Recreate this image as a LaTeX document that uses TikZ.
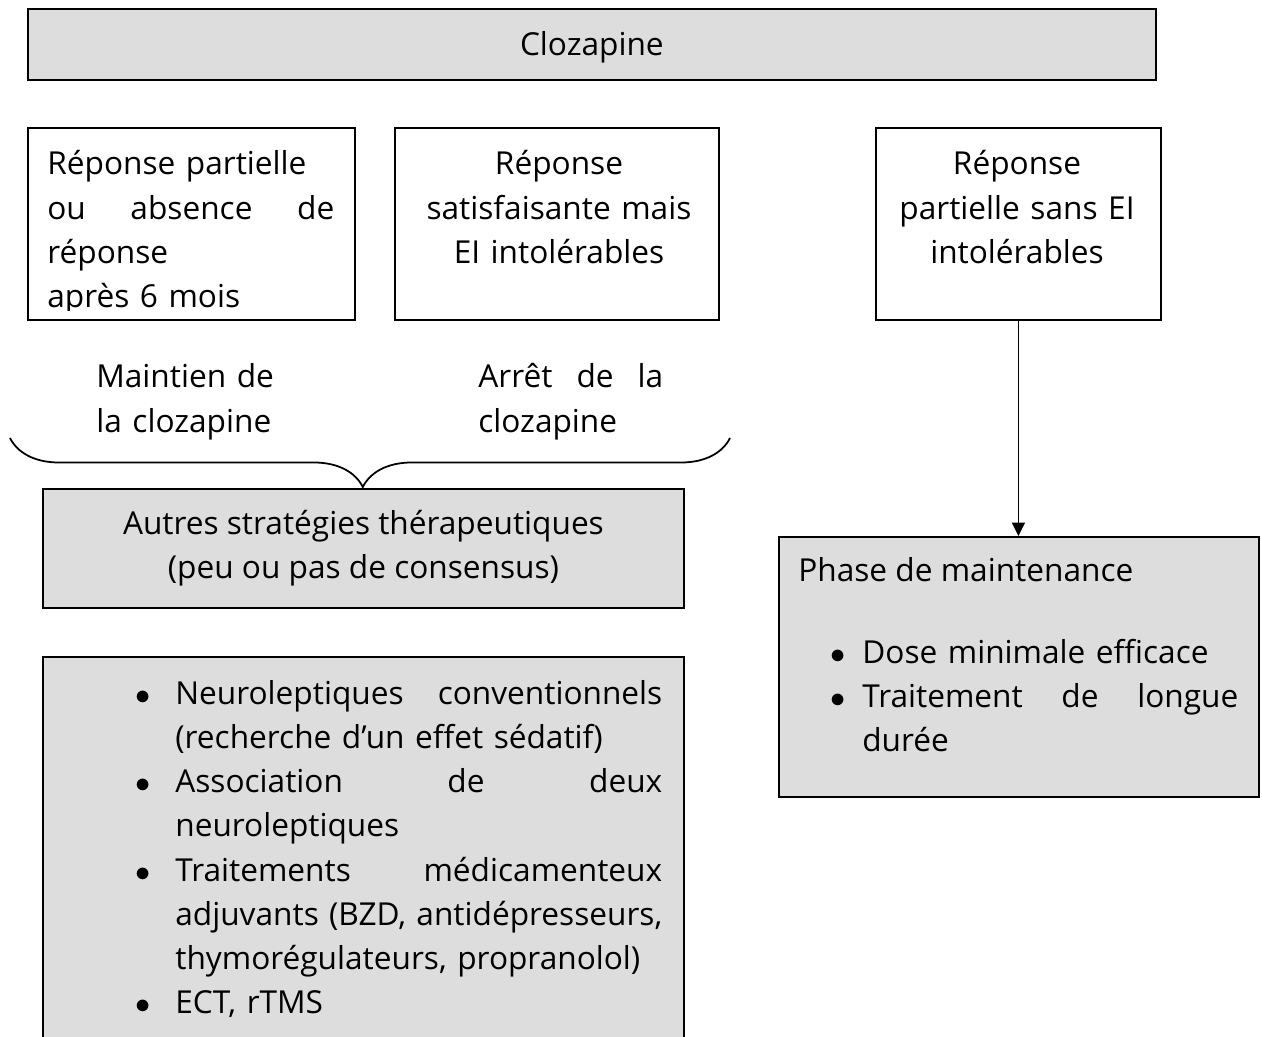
\documentclass[tikz,border=0pt]{standalone}
\usepackage{fontspec}
\setmainfont{Open Sans}
\usetikzlibrary{arrows.meta,positioning,decorations.pathreplacing}
\definecolor{boxgray}{HTML}{DDDDDD}
\newcommand{\bodyfont}{\fontsize{18}{25.2}\selectfont}
\newcommand{\puce}[1]{\leavevmode\llap{$\bullet$\hspace{#1}}}
\tikzset{
      frame/.style    = {draw, line width=1.1pt, inner sep=0pt, anchor=north west},
      shaded/.style   = {frame, fill=boxgray},
      txt/.style      = {inner sep=0pt, font=\bodyfont},
      flowedge/.style = {black, line width=1pt, -{Triangle[length=0.27cm, width=0.26cm]}},
      accolade/.style = {black, line width=1pt, decorate,
                         decoration={brace, mirror, amplitude=0.98cm, aspect=0.49}},
    }

\begin{document}
\begin{tikzpicture}[x=0.02cm, y=-0.02cm]
    \useasboundingbox (0,0) rectangle (1262,1037);

    \node [shaded, txt, text height=17pt, text depth=4.5pt,
           minimum width=22.56cm, minimum height=1.42cm] (clozapine) at (27,8) {Clozapine};

    \node [frame, minimum width=6.54cm, minimum height=3.84cm] (frameA) at (27,127) {};
    \node [frame, minimum width=6.48cm, minimum height=3.84cm] (frameB) at (394,127) {};
    \node [frame, minimum width=5.70cm, minimum height=3.84cm] (frameC) at (875,127) {};

    \begin{scope}
      \clip (frameA.north west) rectangle ([yshift=0.2cm]frameA.south east);
      \node [txt, anchor=base west, text width=5.74cm, align=left] (textA) at (47,175)
        {Réponse partielle\\ ou\hfill absence\hfill de\\ réponse\\ après 6 mois};
    \end{scope}
    \node [txt, anchor=base, text width=6cm, align=center] (textB) at (559,175)
      {Réponse\\ satisfaisante mais\\ EI intolérables};
    \node [txt, anchor=base, text width=5.4cm, align=center] (textC) at (1017,175)
      {Réponse\\ partielle sans EI\\ intolérables};

    \node [txt, anchor=base west, text width=3.6cm, align=left] (maintien) at (96,388)
      {Maintien de\\ la clozapine};
    \node [txt, anchor=base west, text width=3.7cm, align=left] (arret) at (478,388)
      {Arrêt\hfill de\hfill la\\ clozapine};

    \coordinate (braceL) at (10,438);
    \coordinate (braceR) at (730,438);
    \draw [accolade] (braceL) -- (braceR);

    \node [shaded, txt, align=center, minimum width=12.82cm, minimum height=2.38cm] (autres) at (42,488)
      {Autres stratégies thérapeutiques\\ (peu ou pas de consensus)};

    \node [shaded, minimum width=12.82cm, minimum height=8cm] (frameE) at (42,656) {};
    \node [txt, anchor=base west, text width=9.74cm, align=left] (textE) at (175,704)
      {\puce{0.5cm}Neuroleptiques\hfill conventionnels\\
       (recherche d’un effet sédatif)\\
       \puce{0.5cm}Association\hfill de\hfill deux\\
       neuroleptiques\\
       \puce{0.5cm}Traitements\hfill médicamenteux\\
       adjuvants\hfill (BZD,\hfill antidépresseurs,\\
       thymorégulateurs, propranolol)\\
       \puce{0.5cm}ECT, rTMS};

    \node [shaded, minimum width=9.60cm, minimum height=5.20cm] (frameF) at (778,536) {};
    \node [txt, anchor=base west] (phase) at (798,581) {Phase de maintenance};
    \node [txt, anchor=base west, text width=7.52cm, align=left] (textF) at (862,663)
      {\puce{0.33cm}Dose minimale efficace\\
       \puce{0.33cm}Traitement\hfill de\hfill longue\\
       durée};

    \draw [flowedge] (frameC.south) -- (frameC.south |- frameF.north);
\end{tikzpicture}
\end{document}
